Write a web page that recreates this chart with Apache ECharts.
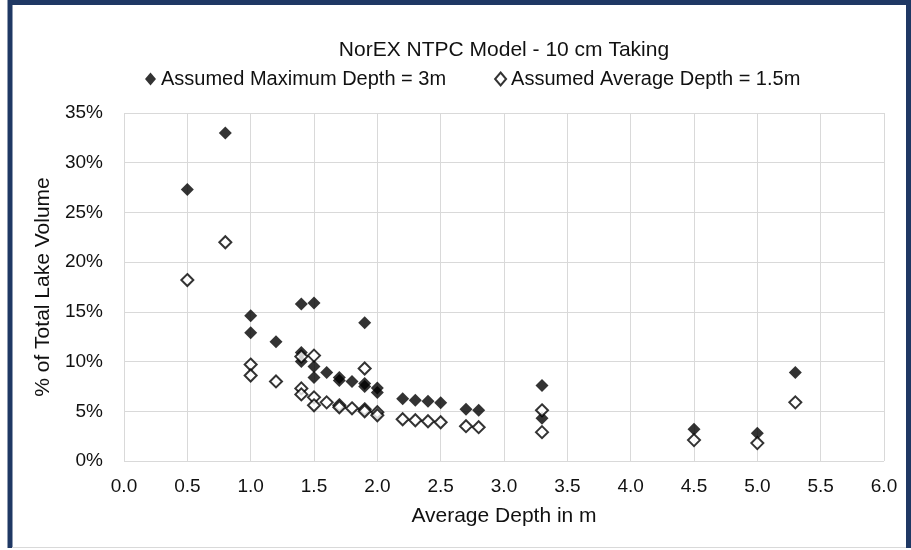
<!DOCTYPE html>
<html>
<head>
<meta charset="utf-8">
<script src="https://cdn.jsdelivr.net/npm/echarts@6/dist/echarts.min.js"></script>
<style>
html,body{margin:0;padding:0;background:#fff;}
#chart{width:911px;height:550px;}
</style>
</head>
<body>
<div id="chart"></div>
<script>
const titleText = 'NorEX NTPC Model - 10 cm Taking';
const seriesNames = ['Assumed Maximum Depth = 3m', 'Assumed Average Depth = 1.5m'];
const xAxisName = 'Average Depth in m';
const yAxisName = '% of Total Lake Volume';
const depthX = [0.5,0.8,1.0,1.0,1.2,1.4,1.4,1.4,1.5,1.5,1.5,1.6,1.7,1.7,1.8,1.9,1.9,1.9,2.0,2.0,2.2,2.3,2.4,2.5,2.7,2.8,3.3,3.3,4.5,5.0,5.3];
const maxDepthPct = [27.3,33.0,14.6,12.9,12.0,15.8,10.9,10.0,15.9,9.5,8.4,8.9,8.4,8.1,8.0,13.9,7.8,7.5,7.35,6.9,6.25,6.1,6.0,5.85,5.2,5.1,7.6,4.3,3.2,2.8,8.9];
const avgDepthPct = [18.2,22.0,9.7,8.6,8.0,10.5,7.3,6.7,10.6,6.4,5.6,5.9,5.6,5.4,5.3,9.3,5.2,5.0,4.9,4.6,4.2,4.1,4.0,3.9,3.5,3.4,5.1,2.9,2.1,1.8,5.9];

const FONT = '"Liberation Sans", Arial, sans-serif';
const chart = echarts.init(document.getElementById('chart'), null, {renderer: 'canvas'});
const pairs = (xs, ys) => xs.map((x, i) => [x, ys[i]]);

chart.setOption({
  animation: false,
  backgroundColor: '#fff',
  textStyle: {fontFamily: FONT, color: '#000'},
  title: {
    text: titleText, left: 499, top: 35, textAlign: 'center',
    textStyle: {fontFamily: FONT, fontSize: 21, fontWeight: 'normal', color: '#111'}
  },
  legend: {
    top: 64, left: 140, itemGap: 48, itemWidth: 11, itemHeight: 13,
    textStyle: {fontFamily: FONT, fontSize: 20, color: '#111'},
    data: [
      {name: seriesNames[0], icon: 'diamond'},
      {name: seriesNames[1], icon: 'diamond'}
    ]
  },
  grid: {left: 124, right: 27, top: 113, bottom: 89, containLabel: false},
  xAxis: {
    type: 'value', min: 0, max: 6, interval: 0.5,
    name: xAxisName, nameLocation: 'middle', nameGap: 45,
    nameTextStyle: {fontFamily: FONT, fontSize: 21, color: '#111'},
    axisLine: {show: false}, axisTick: {show: false},
    axisLabel: {fontFamily: FONT, fontSize: 19, color: '#111', margin: 16, formatter: v => v.toFixed(1)},
    splitLine: {show: true, lineStyle: {color: '#d9d9d9', width: 1}}
  },
  yAxis: {
    type: 'value', min: 0, max: 35, interval: 5,
    name: yAxisName, nameLocation: 'middle', nameGap: 69,
    nameTextStyle: {fontFamily: FONT, fontSize: 21, color: '#111'},
    axisLine: {show: false}, axisTick: {show: false},
    axisLabel: {fontFamily: FONT, fontSize: 19, color: '#111', margin: 21, formatter: v => v + '%'},
    splitLine: {show: true, lineStyle: {color: '#d9d9d9', width: 1}}
  },
  series: [
    {
      name: seriesNames[0], type: 'scatter', symbol: 'diamond', symbolSize: 13,
      itemStyle: {color: '#000'},
      data: pairs(depthX, maxDepthPct)
    },
    {
      name: seriesNames[1], type: 'scatter', symbol: 'diamond', symbolSize: 12,
      itemStyle: {color: '#fff', borderColor: '#000', borderWidth: 2},
      data: pairs(depthX, avgDepthPct)
    }
  ],
  graphic: [
    {type: 'polyline', silent: true, shape: {points: [[10, 548], [10, 2.5], [908.5, 2.5], [908.5, 548]]},
     style: {stroke: '#1f3864', lineWidth: 5, fill: null}},
    {type: 'line', silent: true, shape: {x1: 12, y1: 547.5, x2: 906, y2: 547.5},
     style: {stroke: '#d9d9d9', lineWidth: 1}}
  ]
});
</script>
</body>
</html>
